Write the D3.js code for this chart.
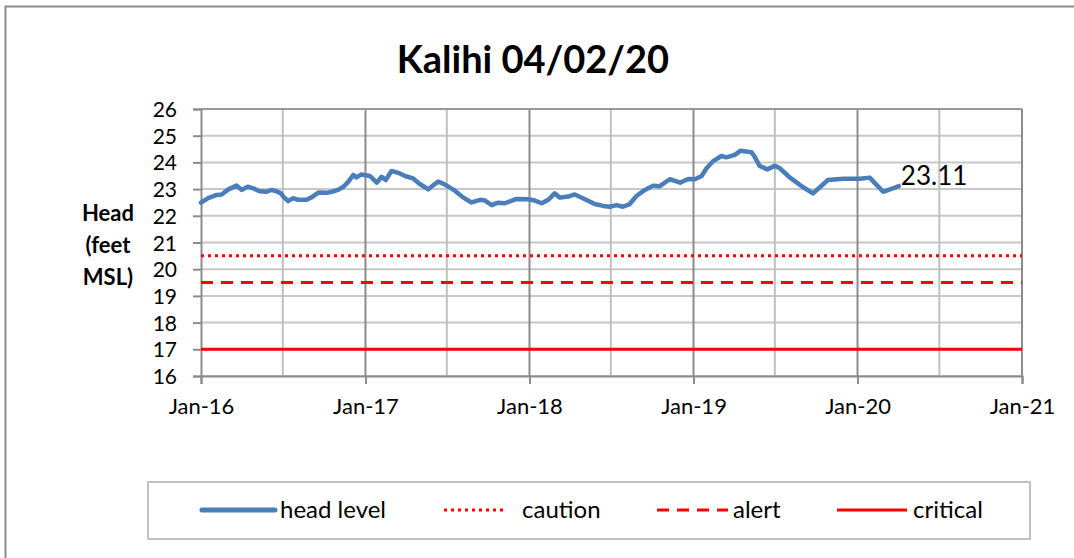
<!DOCTYPE html>
<html lang="en">
<head>
<meta charset="UTF-8">
<title>Kalihi 04/02/20</title>
<script src="https://d3js.org/d3.v7.min.js"></script>
<style>
  body { margin: 0; background: #fff; }
  svg text { font-family: 'Lato', 'Liberation Sans', sans-serif; fill: #000; }
</style>
</head>
<body>
<svg id="chart" width="1074" height="558"></svg>
<script>
// head level readings (date, feet MSL)
const dates = [
  "2016-01-01","2016-01-17","2016-02-05","2016-02-16","2016-03-02","2016-03-20","2016-04-01","2016-04-14",
  "2016-04-26","2016-05-11","2016-05-26","2016-06-06","2016-06-17","2016-06-27","2016-07-02","2016-07-13",
  "2016-07-24","2016-08-04","2016-08-23","2016-09-03","2016-09-18","2016-10-07","2016-10-18","2016-11-01",
  "2016-11-13","2016-11-24","2016-12-05","2016-12-12","2016-12-23","2017-01-11","2017-01-26","2017-02-06",
  "2017-02-15","2017-02-28","2017-03-15","2017-03-30","2017-04-17","2017-05-02","2017-05-21","2017-06-01",
  "2017-06-12","2017-06-27","2017-07-19","2017-08-06","2017-08-25","2017-09-13","2017-09-24","2017-10-09",
  "2017-10-23","2017-11-07","2017-12-03","2017-12-29","2018-01-13","2018-01-28","2018-02-12","2018-02-26",
  "2018-03-10","2018-03-28","2018-04-12","2018-04-30","2018-05-26","2018-06-14","2018-06-29","2018-07-14",
  "2018-07-28","2018-08-12","2018-08-27","2018-09-15","2018-10-03","2018-10-18","2018-11-09","2018-12-02",
  "2018-12-20","2019-01-04","2019-01-19","2019-01-30","2019-02-14","2019-03-04","2019-03-15","2019-04-03",
  "2019-04-16","2019-05-10","2019-05-17","2019-05-28","2019-06-14","2019-07-01","2019-07-12","2019-08-03",
  "2019-09-02","2019-09-24","2019-10-27","2019-11-30","2020-01-06","2020-01-28","2020-02-27","2020-04-02"
];
const heads = [
  22.49,22.66,22.78,22.80,22.99,23.13,22.97,23.09,
  23.03,22.92,22.90,22.97,22.92,22.84,22.72,22.55,
  22.66,22.60,22.60,22.69,22.87,22.86,22.90,22.97,
  23.09,23.28,23.53,23.44,23.55,23.49,23.24,23.46,
  23.34,23.68,23.61,23.49,23.40,23.19,22.99,23.15,
  23.28,23.17,22.94,22.69,22.50,22.60,22.57,22.40,
  22.49,22.47,22.63,22.62,22.57,22.47,22.60,22.84,
  22.68,22.72,22.80,22.66,22.44,22.37,22.34,22.40,
  22.34,22.44,22.74,22.97,23.13,23.11,23.37,23.24,
  23.38,23.37,23.49,23.78,24.05,24.24,24.19,24.28,
  24.44,24.38,24.21,23.87,23.74,23.87,23.78,23.44,
  23.07,22.84,23.34,23.39,23.39,23.43,22.90,23.11
];

// threshold levels
const levelNames = ["caution", "alert", "critical"];
const levelValues = [20.5, 19.5, 17];

const yTicks = [16, 17, 18, 19, 20, 21, 22, 23, 24, 25, 26];
const xTickLabels = ["Jan-16", "Jan-17", "Jan-18", "Jan-19", "Jan-20", "Jan-21"];
const legendLabels = ["head level", "caution", "alert", "critical"];

const parse = d3.timeParse("%Y-%m-%d");
const series = dates.map((d, i) => ({ date: parse(d), value: heads[i] }));

const svg = d3.select("#chart");
const W = 1074, H = 558;
const plot = { left: 201, right: 1022, top: 109, bottom: 376 };
const font = "Lato, 'Liberation Sans', sans-serif";

const x = d3.scaleTime()
  .domain([new Date(2016, 0, 1), new Date(2021, 0, 1)])
  .range([plot.left, plot.right]);
const y = d3.scaleLinear().domain([16, 26]).range([plot.bottom, plot.top]);

const blue = "#4a7ebb", red = "#ff0000";
const styles = {
  caution: { dash: "3,4", width: 3 },
  alert: { dash: "12,8", width: 3 },
  critical: { dash: null, width: 3 }
};

// outer chart border (runs off the right/bottom edge)
svg.append("rect")
  .attr("x", 5.5).attr("y", 6.5)
  .attr("width", W + 10).attr("height", H + 10)
  .attr("fill", "none").attr("stroke", "#8c8c8c").attr("stroke-width", 2);

// title
svg.append("text")
  .attr("x", 533).attr("y", 73)
  .attr("text-anchor", "middle")
  .attr("font-size", 38).attr("font-weight", "bold")
  .text("Kalihi 04/02/20");

// horizontal gridlines
svg.append("g").selectAll("line")
  .data(yTicks)
  .enter().append("line")
  .attr("x1", plot.left).attr("x2", plot.right)
  .attr("y1", d => y(d)).attr("y2", d => y(d))
  .attr("stroke", "#c8c8c8").attr("stroke-width", 2);

// vertical gridlines, every six months
const halfYears = d3.timeMonth.every(6).range(new Date(2016, 6, 1), new Date(2021, 0, 2));
svg.append("g").selectAll("line")
  .data(halfYears)
  .enter().append("line")
  .attr("x1", d => x(d)).attr("x2", d => x(d))
  .attr("y1", plot.top).attr("y2", plot.bottom)
  .attr("stroke", d => d.getMonth() === 0 ? "#8c8c8c" : "#c0c0c0")
  .attr("stroke-width", 2);

// plot frame top
svg.append("line")
  .attr("x1", plot.left).attr("x2", plot.right)
  .attr("y1", plot.top).attr("y2", plot.top)
  .attr("stroke", "#999").attr("stroke-width", 2);

// y axis
const yAxis = d3.axisLeft(y).tickValues(yTicks).tickSize(8).tickPadding(16);
const gy = svg.append("g").attr("transform", `translate(${plot.left},0)`).call(yAxis);
gy.select(".domain").attr("stroke", "#8c8c8c").attr("stroke-width", 2);
gy.selectAll(".tick line").attr("stroke", "#8c8c8c").attr("stroke-width", 2);
gy.selectAll(".tick text").attr("font-size", 21).attr("font-family", font).attr("dy", "0.36em");

// x axis
const xAxis = d3.axisBottom(x)
  .tickValues(d3.timeYear.range(new Date(2016, 0, 1), new Date(2021, 0, 2)))
  .tickFormat((d, i) => xTickLabels[i])
  .tickSize(8).tickPadding(14);
const gx = svg.append("g").attr("transform", `translate(0,${plot.bottom})`).call(xAxis);
gx.select(".domain").attr("stroke", "#8c8c8c").attr("stroke-width", 2);
gx.selectAll(".tick line").attr("stroke", "#8c8c8c").attr("stroke-width", 2);
gx.selectAll(".tick text").attr("font-size", 22).attr("font-family", font);

// threshold lines
svg.append("g").selectAll("line")
  .data(levelNames.map((n, i) => ({ name: n, value: levelValues[i] })))
  .enter().append("line")
  .attr("x1", plot.left).attr("x2", plot.right)
  .attr("y1", d => y(d.value)).attr("y2", d => y(d.value))
  .attr("stroke", red)
  .attr("stroke-width", d => styles[d.name].width)
  .attr("stroke-dasharray", d => styles[d.name].dash);

// head level
const line = d3.line().x(d => x(d.date)).y(d => y(d.value));
svg.append("path")
  .datum(series)
  .attr("d", line)
  .attr("fill", "none")
  .attr("stroke", blue)
  .attr("stroke-width", 4.5)
  .attr("stroke-linejoin", "round")
  .attr("stroke-linecap", "round");

// last value label
const last = series[series.length - 1];
svg.append("text")
  .attr("x", x(last.date) + 2).attr("y", y(last.value) - 1)
  .attr("font-size", 26)
  .text(last.value.toFixed(2));

// y axis title
svg.append("text")
  .attr("text-anchor", "middle")
  .attr("font-size", 22).attr("font-weight", "bold")
  .selectAll("tspan")
  .data(["Head", "(feet", "MSL)"])
  .enter().append("tspan")
  .attr("x", 108)
  .attr("y", (d, i) => 221 + i * 32)
  .text(d => d);

// legend
svg.append("rect")
  .attr("x", 148).attr("y", 482)
  .attr("width", 882).attr("height", 57)
  .attr("fill", "#fff").attr("stroke", "#c0c0c0").attr("stroke-width", 2);

const legendItems = [
  { x1: 202, x2: 275, tx: 280, color: blue, dash: null, width: 5, cap: "round" },
  { x1: 444, x2: 506, tx: 522, color: red, dash: "3,4", width: 3, cap: "butt" },
  { x1: 657, x2: 728, tx: 733, color: red, dash: "12,8", width: 3, cap: "butt" },
  { x1: 837, x2: 907, tx: 913, color: red, dash: null, width: 3, cap: "butt" }
];
const lg = svg.append("g").selectAll("g")
  .data(legendItems)
  .enter().append("g");
lg.append("line")
  .attr("x1", d => d.x1).attr("x2", d => d.x2)
  .attr("y1", 510).attr("y2", 510)
  .attr("stroke", d => d.color)
  .attr("stroke-width", d => d.width)
  .attr("stroke-dasharray", d => d.dash)
  .attr("stroke-linecap", d => d.cap);
lg.append("text")
  .attr("x", d => d.tx).attr("y", 518)
  .attr("font-size", 24)
  .text((d, i) => legendLabels[i]);
</script>
</body>
</html>
